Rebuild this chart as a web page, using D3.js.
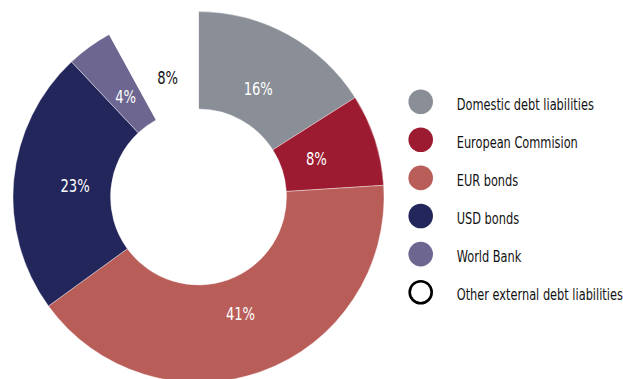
<!DOCTYPE html>
<html>
<head>
<meta charset="utf-8">
<script src="https://cdn.jsdelivr.net/npm/d3@7"></script>
<style>
  html, body { margin: 0; padding: 0; background: #fff; }
  svg { display: block; }
  text { font-family: "DejaVu Sans Condensed", "DejaVu Sans", sans-serif; font-stretch: condensed; }
</style>
</head>
<body>
<svg id="chart" width="623" height="379"></svg>
<script>
// Composition of debt liabilities, shares in percent
const categories = [
  "Domestic debt liabilities",
  "European Commision",
  "EUR bonds",
  "USD bonds",
  "World Bank",
  "Other external debt liabilities"
];
const shares = [16, 8, 41, 23, 4, 8];
const shareLabels = ["16%", "8%", "41%", "23%", "4%", "8%"];
const colors = ["#8a8e97", "#9c1b30", "#b95d59", "#22265b", "#6c6690", "#ffffff"];

const data = categories.map((name, i) => ({ name, value: shares[i], label: shareLabels[i], color: colors[i] }));

const svg = d3.select("#chart");
const cx = 198.5, cy = 197;
const outerR = 185.5, innerR = 88, labelR = 124;

const pie = d3.pie().value(d => d.value).sort(null);
const arc = d3.arc().innerRadius(innerR).outerRadius(outerR);
const labelArc = d3.arc().innerRadius(labelR).outerRadius(labelR);

const g = svg.append("g").attr("transform", `translate(${cx},${cy})`);
const arcs = pie(data);

g.selectAll("path.slice")
  .data(arcs)
  .join("path")
  .attr("class", "slice")
  .attr("d", arc)
  .attr("fill", d => d.data.color)
  .attr("stroke", d => d.data.color === "#ffffff" ? "none" : "#ffffff")
  .attr("stroke-width", 0.4);

// Narrow typeface look: text is squeezed horizontally
const squeeze = 0.79;

g.selectAll("text.pct")
  .data(arcs)
  .join("text")
  .attr("class", "pct")
  .attr("transform", d => `translate(${labelArc.centroid(d)}) scale(${squeeze},1)`)
  .attr("text-anchor", "middle")
  .attr("dy", "0.36em")
  .attr("font-size", 18.5)
  .attr("fill", d => d.data.color === "#ffffff" ? "#111" : "#ffffff")
  .text(d => d.data.label);

// Legend
const legendX = 420.7, legendY = 101.7, legendStep = 38.1;
const legend = svg.append("g");
const rows = legend.selectAll("g.row")
  .data(data)
  .join("g")
  .attr("class", "row")
  .attr("transform", (d, i) => `translate(${legendX},${legendY + i * legendStep})`);

rows.append("circle")
  .attr("r", d => d.color === "#ffffff" ? 11 : 12.3)
  .attr("fill", d => d.color)
  .attr("stroke", d => d.color === "#ffffff" ? "#000" : "none")
  .attr("stroke-width", 2.6);

rows.append("text")
  .attr("transform", `translate(36,7.8) scale(${squeeze},1)`)
  .attr("font-size", 16)
  .attr("fill", "#111")
  .text(d => d.name);
</script>
</body>
</html>
